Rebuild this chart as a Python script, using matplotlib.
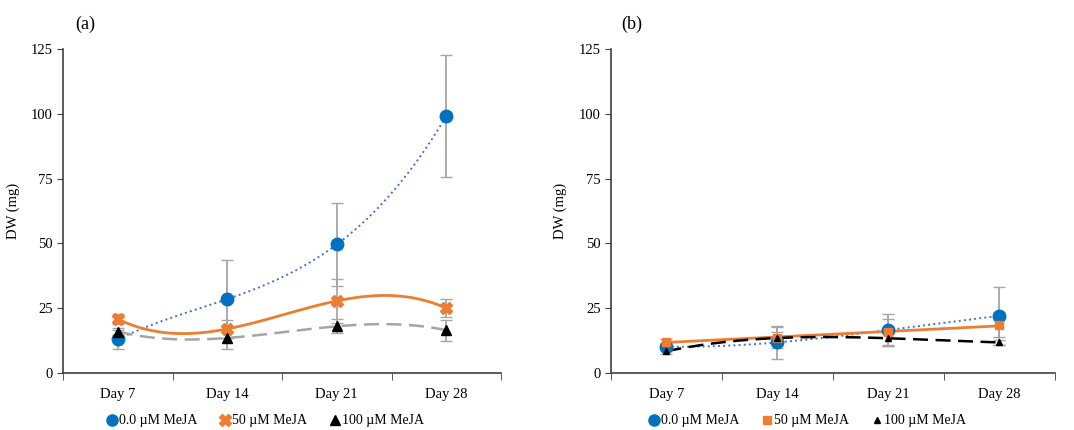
import numpy as np
import matplotlib
matplotlib.use('Agg')
import matplotlib.pyplot as plt
from matplotlib.lines import Line2D

plt.rcParams['font.family'] = ['Liberation Serif', 'DejaVu Serif']

days = ['Day 7', 'Day 14', 'Day 21', 'Day 28']
labels = ['0.0 \u00b5M MeJA', '50 \u00b5M MeJA', '100 \u00b5M MeJA']

# panel (a)
a_ctrl = [13.0, 28.5, 49.6, 99.1]
a_ctrl_err = [3.7, 15.0, 16.0, 23.5]
a_50 = [20.8, 17.0, 27.8, 25.0]
a_50_err = [2.0, 3.5, 8.6, 3.4]
a_100 = [16.0, 13.5, 18.0, 16.5]
a_100_err = [1.5, 4.3, 2.7, 4.0]

# panel (b)
b_ctrl = [10.2, 11.8, 16.6, 22.0]
b_ctrl_err = [1.5, 6.5, 6.0, 11.2]
b_50 = [12.1, 13.6, 15.7, 18.5]
b_50_err = [1.0, 4.0, 5.0, 4.5]
b_100 = [8.4, 13.5, 13.4, 11.8]
b_100_err = [1.0, 2.5, 3.0, 1.0]

blue = '#0070C0'
blue_line = '#4472C4'
orange = '#ED7D31'
err_col = '#A6A6A6'

x = np.arange(len(days))
xs = np.linspace(0, 3, 200)


def trend(ax, y, deg, color, ls, lw):
    c = np.polyfit(x, y, deg)
    ax.plot(xs, np.polyval(c, xs), color=color, ls=ls, lw=lw, zorder=3)


def style(ax):
    ax.set_xlim(-0.5, 3.5)
    ax.set_ylim(0, 125)
    ax.set_yticks([0, 25, 50, 75, 100, 125])
    ax.set_xticks(x)
    ax.set_xticklabels(days, fontsize=10.5)
    ax.set_xticks([-0.5, 0.5, 1.5, 2.5, 3.5], minor=True)
    ax.tick_params(axis='x', which='major', length=0, pad=11)
    ax.tick_params(axis='x', which='minor', length=5, direction='out', color='#404040')
    ax.tick_params(axis='y', length=4, labelsize=10.5, color='#404040')
    for s in ['top', 'right']:
        ax.spines[s].set_visible(False)
    for s in ['left', 'bottom']:
        ax.spines[s].set_color('#404040')
        ax.spines[s].set_linewidth(1.2)
    ax.set_ylabel('DW (mg)', fontsize=10.5)
    ax.yaxis.set_label_coords(-0.098, 0.5)


fig = plt.figure(figsize=(10.74, 4.30), dpi=100)
ax1 = fig.add_axes([0.0587, 0.1326, 0.4078, 0.7535])
ax2 = fig.add_axes([0.5689, 0.1326, 0.4134, 0.7535])

# (a)
for y, e in [(a_ctrl, a_ctrl_err), (a_50, a_50_err), (a_100, a_100_err)]:
    ax1.errorbar(x, y, yerr=e, fmt='none', ecolor=err_col, capsize=4, elinewidth=1.3, zorder=2)
trend(ax1, a_ctrl, 3, blue_line, ':', 1.4)
trend(ax1, a_50, 3, orange, '-', 2.0)
trend(ax1, a_100, 3, '#A5A5A5', (0, (6, 3)), 1.8)
ax1.plot(x, a_ctrl, 'o', color=blue, ms=9, zorder=5)
ax1.plot(x, a_50, 'X', color=orange, ms=9, zorder=5)
ax1.plot(x, a_100, '^', color='black', ms=7, zorder=5)
style(ax1)
h1 = [Line2D([], [], marker='o', color=blue, ls='none', ms=8),
      Line2D([], [], marker='X', color=orange, ls='none', ms=8),
      Line2D([], [], marker='^', color='black', ls='none', ms=7)]
ax1.legend(h1, labels, loc='center', bbox_to_anchor=(0.46, -0.148), ncol=3,
           frameon=False, fontsize=10, handletextpad=0.0, columnspacing=1.5, handlelength=1.0)

# (b)
for y, e in [(b_ctrl, b_ctrl_err), (b_50, b_50_err), (b_100, b_100_err)]:
    ax2.errorbar(x, y, yerr=e, fmt='none', ecolor=err_col, capsize=4, elinewidth=1.3, zorder=2)
trend(ax2, b_ctrl, 3, blue_line, ':', 1.4)
trend(ax2, b_50, 1, orange, '-', 2.0)
trend(ax2, b_100, 3, 'black', (0, (6, 3)), 1.8)
ax2.plot(x, b_ctrl, 'o', color=blue, ms=9, zorder=5)
ax2.plot(x, b_50, 's', color=orange, ms=6, zorder=5)
ax2.plot(x, b_100, '^', color='black', ms=5, zorder=5)
style(ax2)
h2 = [Line2D([], [], marker='o', color=blue, ls='none', ms=8),
      Line2D([], [], marker='s', color=orange, ls='none', ms=6),
      Line2D([], [], marker='^', color='black', ls='none', ms=5)]
ax2.legend(h2, labels, loc='center', bbox_to_anchor=(0.44, -0.148), ncol=3,
           frameon=False, fontsize=10, handletextpad=0.0, columnspacing=1.5, handlelength=1.0)

fig.text(85 / 1074, 1 - 24 / 430, '(a)', fontsize=13, ha='center', va='center')
fig.text(632 / 1074, 1 - 24 / 430, '(b)', fontsize=13, ha='center', va='center')

fig.savefig('out.png', dpi=100)
